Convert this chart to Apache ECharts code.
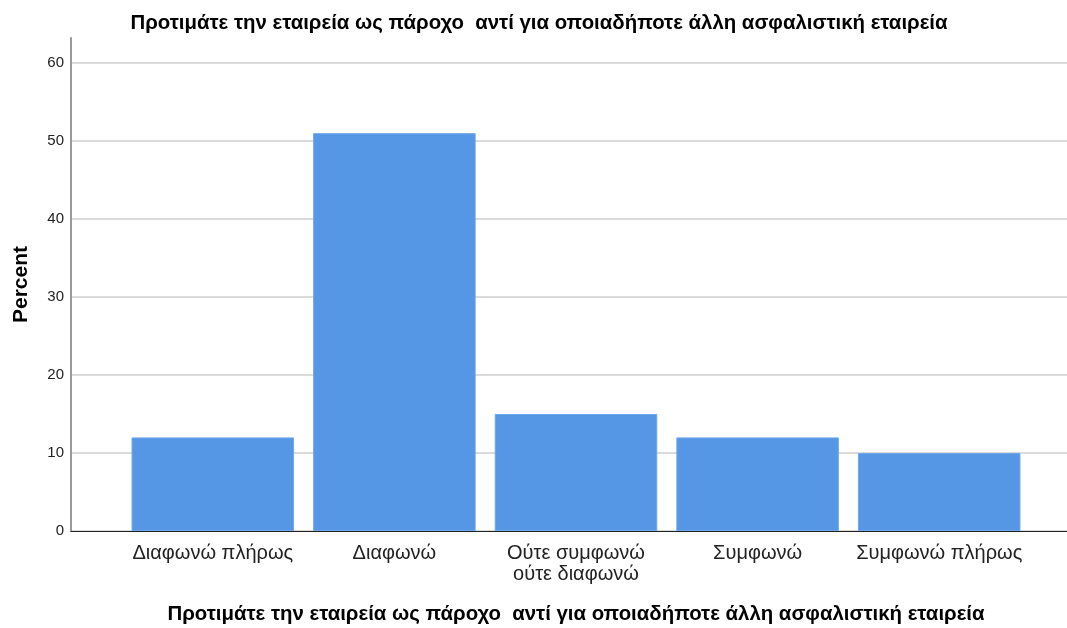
<!DOCTYPE html>
<html>
<head>
<meta charset="utf-8">
<script src="https://cdn.jsdelivr.net/npm/echarts@6/dist/echarts.min.js"></script>
<style>
  html, body { margin: 0; padding: 0; background: #fff; }
  #chart { width: 1067px; height: 628px; }
</style>
</head>
<body>
<div id="chart"></div>
<script>
// Response categories and their percentages
const categories = ['Διαφωνώ πλήρως', 'Διαφωνώ', 'Ούτε συμφωνώ\nούτε διαφωνώ', 'Συμφωνώ', 'Συμφωνώ πλήρως'];
const percents = [12, 51, 15, 12, 10];
const chartTitle = 'Προτιμάτε την εταιρεία ως πάροχο  αντί για οποιαδήποτε άλλη ασφαλιστική εταιρεία';
const yAxisTitle = 'Percent';

const FONT = '"Liberation Sans", Arial, sans-serif';
const Y_MAX = 63.2;

const chart = echarts.init(document.getElementById('chart'));
chart.setOption({
  animation: false,
  backgroundColor: '#ffffff',
  title: [
    {
      text: chartTitle,
      left: 534, top: 7, textAlign: 'center',
      textStyle: { fontFamily: FONT, fontSize: 20.4, fontWeight: 'bold', color: '#000', lineHeight: 22 }
    },
    {
      text: chartTitle,
      left: 571, top: 598, textAlign: 'center',
      textStyle: { fontFamily: FONT, fontSize: 20.4, fontWeight: 'bold', color: '#000', lineHeight: 22 }
    }
  ],
  grid: [
    // frame grid: y axis, gridlines, baseline
    { left: 71, right: 0, top: 38, bottom: 97 },
    // bar grid: categories inset from the frame
    { left: 122, right: 37, top: 38, bottom: 97 }
  ],
  xAxis: [
    {
      gridIndex: 0, type: 'value', min: 0, max: 1,
      axisLine: { show: true, lineStyle: { color: '#222', width: 1 } },
      axisTick: { show: false }, axisLabel: { show: false }, splitLine: { show: false }
    },
    {
      gridIndex: 1, type: 'category', data: categories,
      axisLine: { show: false }, axisTick: { show: false },
      axisLabel: {
        fontFamily: FONT, fontSize: 20, color: '#222', margin: 12, lineHeight: 21,
        interval: 0
      }
    }
  ],
  yAxis: [
    {
      gridIndex: 0, type: 'value', min: 0, max: Y_MAX, interval: 10,
      name: yAxisTitle, nameLocation: 'middle', nameGap: 39, nameRotate: 90,
      nameTextStyle: { fontFamily: FONT, fontSize: 21, fontWeight: 'bold', color: '#000' },
      axisLine: { show: true, lineStyle: { color: '#999', width: 2 } },
      axisTick: { show: false },
      axisLabel: { fontFamily: FONT, fontSize: 15, color: '#222', margin: 7, showMaxLabel: false },
      splitLine: { show: true, showMaxLine: false, lineStyle: { color: '#cfcfcf', width: 1.5 } }
    },
    {
      gridIndex: 1, type: 'value', min: 0, max: Y_MAX, show: false,
      splitLine: { show: false }
    }
  ],
  series: [
    {
      type: 'bar', xAxisIndex: 1, yAxisIndex: 1,
      data: percents,
      barCategoryGap: '10.5%',
      itemStyle: { color: '#5596e5', borderColor: '#6fa7ea', borderWidth: 1 }
    }
  ]
});
</script>
</body>
</html>
